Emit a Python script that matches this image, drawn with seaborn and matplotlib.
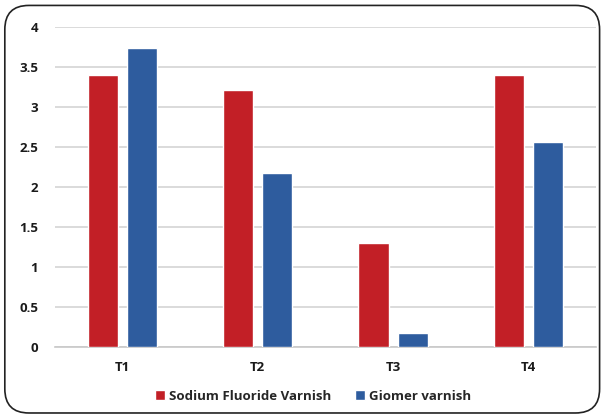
import matplotlib.pyplot as plt
import seaborn as sns
import pandas as pd
from matplotlib.patches import FancyBboxPatch

# values
times = ['T1', 'T2', 'T3', 'T4']
sodium_fluoride = [3.40, 3.21, 1.30, 3.40]
giomer = [3.74, 2.18, 0.17, 2.56]
series_names = ['Sodium Fluoride Varnish', 'Giomer varnish']
y_ticks = [0, 0.5, 1, 1.5, 2, 2.5, 3, 3.5, 4]
y_tick_labels = ['0', '0.5', '1', '1.5', '2', '2.5', '3', '3.5', '4']

df = pd.DataFrame({
    'time': times * 2,
    'value': sodium_fluoride + giomer,
    'group': [series_names[0]] * 4 + [series_names[1]] * 4,
})

sns.set_style('white')
plt.rcParams['font.family'] = ['Open Sans', 'DejaVu Sans']
plt.rcParams['font.weight'] = 'bold'

fig = plt.figure(figsize=(6.02, 4.18), dpi=100)
ax = fig.add_axes([0.091, 0.170, 0.899, 0.765])

palette = {series_names[0]: '#C21F26', series_names[1]: '#2E5C9E'}
sns.barplot(data=df, x='time', y='value', hue='group', palette=palette,
            width=0.58, gap=0.23, saturation=1, ax=ax, zorder=3)

ax.set_ylim(0, 4)
ax.set_xlim(-0.5, 3.5)
ax.set_yticks(y_ticks)
ax.set_yticklabels(y_tick_labels)
ax.yaxis.grid(True, color='#D4D4D4', linewidth=1.2, zorder=0)
ax.set_axisbelow(True)
for s in ['top', 'right', 'left']:
    ax.spines[s].set_visible(False)
ax.spines['bottom'].set_color('#C8C8C8')
ax.spines['bottom'].set_linewidth(1.2)
ax.tick_params(axis='x', length=0, labelsize=9.5, pad=10)
ax.tick_params(axis='y', length=0, labelsize=9.5, pad=12)
plt.setp(ax.get_xticklabels() + ax.get_yticklabels(), fontweight='bold', color='#1A1A1A')
ax.set_xlabel('')
ax.set_ylabel('')

handles, labels = ax.get_legend_handles_labels()
ax.legend_.remove()
fig.legend(handles, labels, loc='center', bbox_to_anchor=(0.52, 0.052), ncol=2,
           frameon=False, handlelength=0.75, handleheight=0.75, handletextpad=0.3,
           columnspacing=1.8, prop={'weight': 'bold', 'size': 9.5})

frame = FancyBboxPatch((0.008, 0.012), 0.988, 0.975, boxstyle='round,pad=0,rounding_size=0.04',
                       transform=fig.transFigure, fill=False, edgecolor='#222222',
                       linewidth=1.2, mutation_aspect=602 / 418)
fig.patches.append(frame)

fig.savefig('out.png', dpi=100)
